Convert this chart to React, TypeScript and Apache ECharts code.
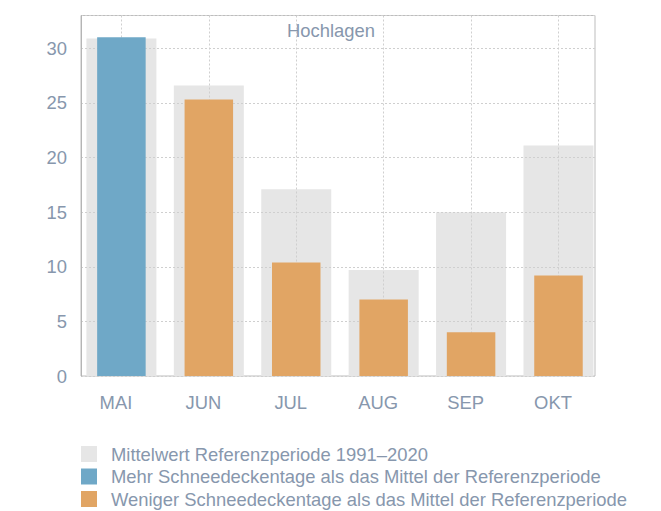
import React, { useEffect, useRef } from "react";
import * as echarts from "echarts";

const categories = ["MAI", "JUN", "JUL", "AUG", "SEP", "OKT"];
const referenceMean = [30.9, 26.6, 17.1, 9.7, 15.0, 21.1];
const moreDays = [31, null, null, null, null, null];
const fewerDays = [null, 25.3, 10.4, 7.0, 4.0, 9.2];
const yMin = 0;
const yMax = 33;
const yInterval = 5;

const titleText = "Hochlagen";
const nameMean = "Mittelwert Referenzperiode 1991–2020";
const nameMore = "Mehr Schneedeckentage als das Mittel der Referenzperiode";
const nameFewer = "Weniger Schneedeckentage als das Mittel der Referenzperiode";

const TEXT = "#8797ad";
const FONT = "'Liberation Sans', Arial, sans-serif";
const FS = 18.4;
const GRAY = "#e6e6e6";
const BLUE = "#6fa8c7";
const ORANGE = "#e1a564";
const GRID_LINE = "#cfcfcf";

export default function App() {
  const ref = useRef<HTMLDivElement>(null);
  useEffect(() => {
    if (!ref.current) return;
    const chart = echarts.init(ref.current, null, { renderer: "svg" });
    const top = 15.5;
    const height = 360.5;
    chart.setOption({
      animation: false,
      textStyle: { fontFamily: FONT },
      grid: [
        { left: 77.7, top, width: 524.5, height, show: false },
        { left: 81, top, width: 514, height, show: true, borderColor: "#bdbdbd", borderWidth: 1, backgroundColor: "transparent" },
        { left: 121.4, top, width: 437.1, height, show: false },
      ],
      xAxis: [
        {
          type: "category", gridIndex: 0, data: categories, z: 1,
          axisLine: { show: false }, axisTick: { show: false }, splitLine: { show: false },
          axisLabel: { color: TEXT, fontSize: FS, fontFamily: FONT, margin: 17, padding: [0, 11, 0, 0] },
        },
        {
          type: "category", gridIndex: 0, data: categories, show: false,
        },
        {
          type: "value", gridIndex: 1, show: false, min: 0, max: 1,
        },
        {
          type: "category", gridIndex: 2, data: categories, boundaryGap: false, z: 1,
          axisLine: { show: false }, axisTick: { show: false }, axisLabel: { show: false },
          splitLine: { show: true, lineStyle: { color: GRID_LINE, type: [2, 2], width: 1 } },
        },
      ],
      yAxis: [
        { type: "value", gridIndex: 0, min: yMin, max: yMax, interval: yInterval, show: false },
        {
          type: "value", gridIndex: 1, min: yMin, max: yMax, interval: yInterval, z: 1,
          axisLine: { show: true, lineStyle: { color: "#b5b5b5" } },
          axisTick: { show: false },
          axisLabel: {
            color: TEXT, fontSize: FS, fontFamily: FONT, margin: 14,
            formatter: (v: number) => (v % yInterval === 0 ? String(v) : ""),
          },
          splitLine: { show: true, lineStyle: { color: GRID_LINE, type: [2, 2], width: 1 } },
        },
        { type: "value", gridIndex: 2, min: yMin, max: yMax, show: false },
      ],
      legend: {
        orient: "vertical",
        left: 81,
        top: 445,
        height: 120,
        width: 580,
        padding: 0,
        itemWidth: 16,
        itemHeight: 16,
        itemGap: 4.5,
        icon: "rect",
        data: [nameMean, nameMore, nameFewer],
        textStyle: { color: TEXT, fontSize: FS, fontFamily: FONT, lineHeight: 16, padding: [0, 0, 0, 9] },
      },
      graphic: [
        {
          type: "text", x: 331, y: 30,
          style: { text: titleText, textAlign: "center", textVerticalAlign: "middle", fontSize: FS, fontFamily: FONT, fill: TEXT },
        },
      ],
      series: [
        {
          name: nameMean, type: "bar", xAxisIndex: 1, yAxisIndex: 0, data: referenceMean,
          barWidth: 70, itemStyle: { color: GRAY }, z: 0,
        },
        {
          name: nameMore, type: "bar", xAxisIndex: 0, yAxisIndex: 0, data: moreDays,
          barWidth: 48.5, barGap: "-100%", itemStyle: { color: BLUE }, z: 2,
        },
        {
          name: nameFewer, type: "bar", xAxisIndex: 0, yAxisIndex: 0, data: fewerDays,
          barWidth: 48.5, barGap: "-100%", itemStyle: { color: ORANGE }, z: 2,
        },
      ],
    });
    return () => chart.dispose();
  }, []);
  return (
    <div
      ref={ref}
      style={{ position: "fixed", left: 0, top: 0, width: 661, height: 511, background: "#fff" }}
    />
  );
}
